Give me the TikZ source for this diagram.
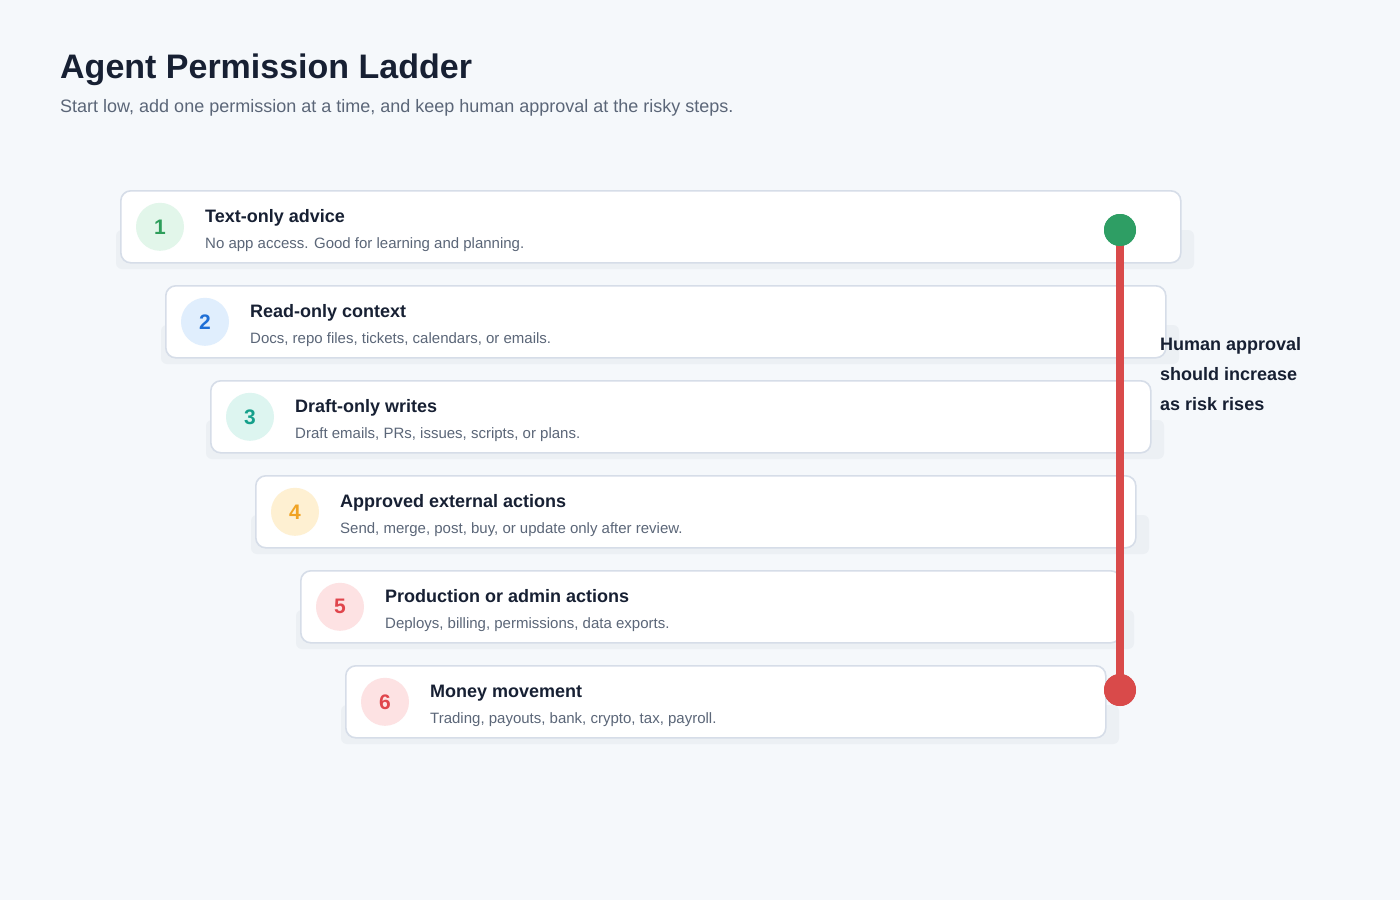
\documentclass[tikz,border=0pt]{standalone}
\usepackage{fontspec}
\setmainfont{Liberation Sans}
\usepackage{xcolor}
\usepackage{tikz}
\usetikzlibrary{positioning,calc}

\definecolor{pagebg}{HTML}{F5F8FB}
\definecolor{ink}{HTML}{172033}
\definecolor{muted}{HTML}{5B6678}
\definecolor{cardline}{HTML}{D6DDE8}
\definecolor{cardshade}{HTML}{ECF0F4}
\definecolor{riskred}{HTML}{D94A4A}
\definecolor{safegreen}{HTML}{2E9E64}
\definecolor{bg1}{HTML}{E2F6EA}\definecolor{fg1}{HTML}{2E9E5B}
\definecolor{bg2}{HTML}{E0EEFD}\definecolor{fg2}{HTML}{1F6FD6}
\definecolor{bg3}{HTML}{DDF5F0}\definecolor{fg3}{HTML}{15A08B}
\definecolor{bg4}{HTML}{FEF0D2}\definecolor{fg4}{HTML}{F0A324}
\definecolor{bg5}{HTML}{FDE2E3}\definecolor{fg5}{HTML}{E0454C}
\definecolor{bg6}{HTML}{FDE2E3}\definecolor{fg6}{HTML}{E0454C}

\tikzset{
  card/.style={draw=cardline, line width=1.6pt, fill=white, rounded corners=10pt,
    anchor=north west, minimum height=72pt, inner sep=0pt},
  badge/.style={circle, minimum size=48pt, inner sep=0pt, outer sep=0pt,
    font=\bfseries\fontsize{21}{21}\selectfont},
  steptitle/.style={anchor=base west, inner sep=0pt, text=ink,
    font=\bfseries\fontsize{18}{20}\selectfont},
  stepnote/.style={anchor=base west, inner sep=0pt, text=muted,
    font=\fontsize{15}{17}\selectfont},
  dot/.style={circle, minimum size=32pt, inner sep=0pt},
}

\begin{document}
\begin{tikzpicture}[x=1pt, y=-1pt]
    % Page
    \fill[pagebg] (0,0) rectangle (1400,900);

    % Heading
    \node[anchor=base west, inner sep=0pt, text=ink, font=\bfseries\fontsize{34}{38}\selectfont]
        (heading) at (60,78) {Agent Permission Ladder};
    \node[anchor=base west, inner sep=0pt, text=muted, font=\fontsize{18}{20}\selectfont]
        (subheading) at (60,112) {Start low, add one permission at a time, and keep human approval at the risky steps.};

    % Ladder steps
    \foreach \i/\ttl/\txt in {
        1/{Text-only advice}/{No app access. Good for learning and planning.},
        2/{Read-only context}/{Docs, repo files, tickets, calendars, or emails.},
        3/{Draft-only writes}/{Draft emails, PRs, issues, scripts, or plans.},
        4/{Approved external actions}/{Send, merge, post, buy, or update only after review.},
        5/{Production or admin actions}/{Deploys, billing, permissions, data exports.},
        6/{Money movement}/{Trading, payouts, bank, crypto, tax, payroll.}}
    {
        \pgfmathsetmacro\cl{120+45*(\i-1)}
        \pgfmathsetmacro\ct{190+95*(\i-1)}
        \pgfmathsetmacro\cw{1060-60*(\i-1)}
        \fill[cardshade, rounded corners=6pt] (\cl-4,\ct+40) rectangle (\cl+\cw+14,\ct+79); % shadow
        \node[card, minimum width=\cw pt] (card\i) at (\cl,\ct) {};
        \node[badge, fill=bg\i, text=fg\i, right=16pt of card\i.west] (badge\i) {\i};
        \node[steptitle] (title\i) at ($(card\i.north west)+(85,32)$) {\ttl};
        \node[stepnote] (note\i) at ($(card\i.north west)+(85,58)$) {\txt};
    }

    % Approval scale
    \node[dot, fill=safegreen] (low) at (1120,230) {};
    \node[dot, fill=riskred] (high) at (1120,690) {};
    \draw[riskred, line width=8pt] (low.center) -- (high.center);
    \node[dot, fill=safegreen] at (low) {};
    \node[dot, fill=riskred] at (high) {};

    \node[anchor=base west, inner sep=0pt, text=ink, align=left,
        font=\bfseries\fontsize{18}{30}\selectfont] (approval) at (1160,410)
        {Human approval\\should increase\\as risk rises};
\end{tikzpicture}
\end{document}
